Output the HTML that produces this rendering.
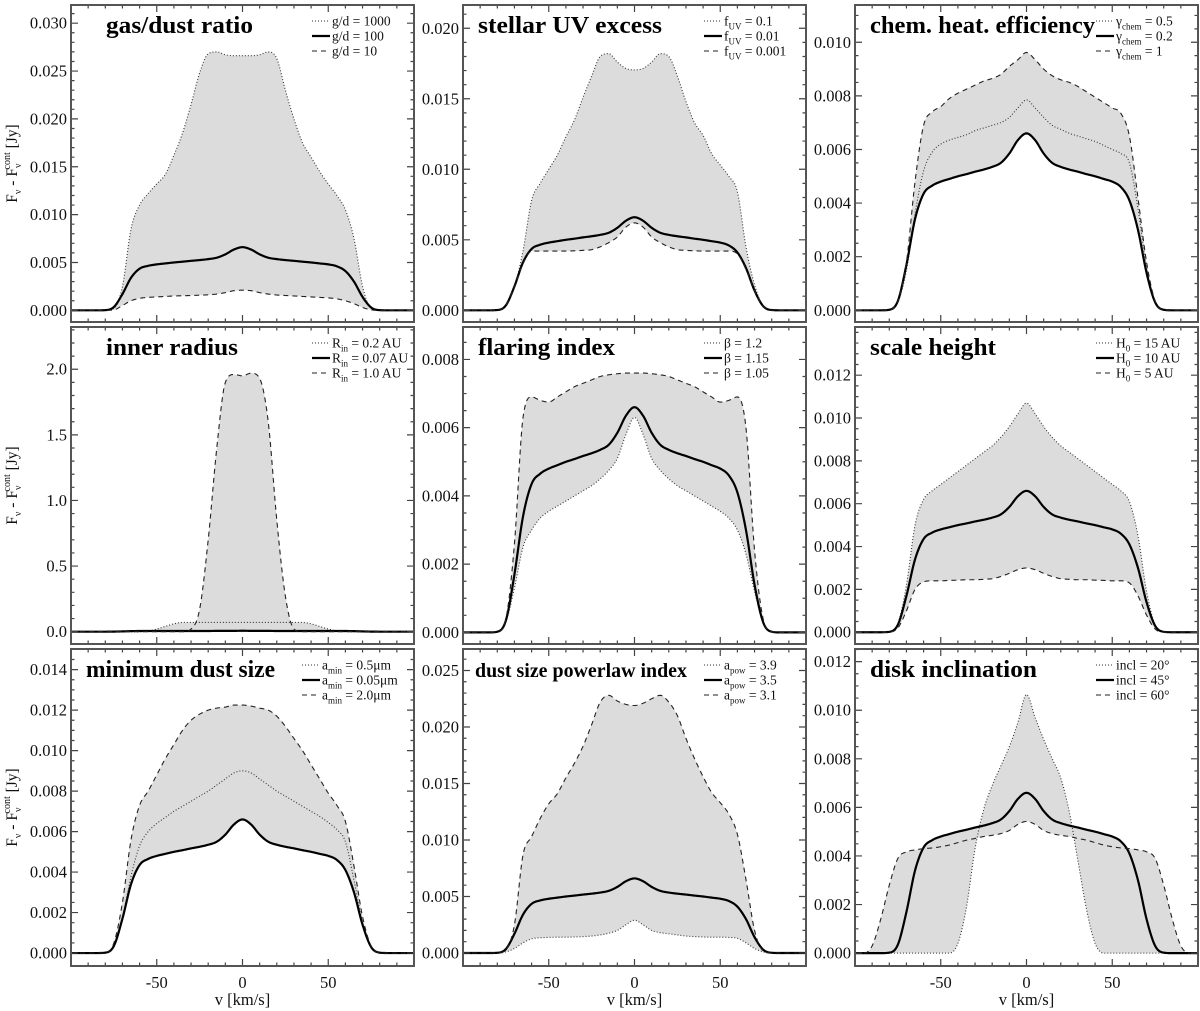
<!DOCTYPE html>
<html><head><meta charset="utf-8"><title>Line profile parameter study</title>
<style>
html,body{margin:0;padding:0;background:#fff;}
svg{display:block;font-family:"Liberation Serif",serif;}
</style></head>
<body>
<svg id="fig" xmlns="http://www.w3.org/2000/svg" width="1200" height="1011" viewBox="0 0 1200 1011">
<rect x="0" y="0" width="1200" height="1011" fill="#fff"/>
</svg>
<script>
// ---- data (flux values in 10^-3 Jy, except inner-radius panel in Jy) ----
const vel = [-100,-95,-90,-85,-80,-75,-70,-65,-60,-55,-50,-45,-40,-35,-30,-25,-20,-15,-10,-5,0,5,10,15,20,25,30,35,40,45,50,55,60,65,70,75,80,85,90,95,100];
const baseFlux = [0,0,0,0,0.02, 0.35,1.7,3.4,4.35,4.65, 4.8,4.9,5.0,5.08,5.17, 5.25,5.35,5.5,5.85,6.35, 6.6, 6.35,5.85,5.5,5.35,5.25, 5.17,5.08,5.0,4.9,4.8, 4.6,4.1,3.0,1.4,0.3, 0.02,0,0,0,0];
const gd1000 = [0,0,0,0,0, 0.2,2.5,8.5,11,12.2, 13.2,14.2,16.2,18.5,21.5, 24.8,26.8,27,26.7,26.6, 26.6, 26.6,26.7,27,26.3,23, 20,17.5,16,14.5,13.2, 12,10.5,7.5,2.5,0.2, 0,0,0,0,0];
const gd10 = [0,0,0,0,0, 0.05,0.5,1.0,1.25,1.35, 1.4,1.45,1.5,1.52,1.55, 1.58,1.62,1.7,1.85,2.05, 2.1, 2.05,1.85,1.7,1.6,1.55, 1.5,1.45,1.4,1.35,1.3, 1.2,1.0,0.7,0.3,0.05, 0,0,0,0,0];
const uv01 = [0,0,0,0,0, 0.3,1.7,4.2,7.8,9.0, 10.0,11.0,12.3,13.5,15.1, 16.6,18.0,18.2,17.6,17.15, 17.05, 17.15,17.6,18.2,18.0,16.6, 14.8,13.3,12.4,11.1,10.3, 9.5,8.4,4.5,1.8,0.3, 0,0,0,0,0];
const uv0001 = [0,0,0,0,0.02, 0.35,1.7,3.3,4.2,4.2, 4.2,4.2,4.2,4.22,4.25, 4.3,4.5,4.8,5.2,5.9, 6.2, 5.9,5.2,4.8,4.5,4.3, 4.25,4.22,4.2,4.2,4.2, 4.2,4.0,2.9,1.4,0.3, 0.02,0,0,0,0];
const chem05 = [0,0,0,0,0.02, 0.3,1.5,3.6,5.2,5.9, 6.2,6.35,6.45,6.55,6.7, 6.8,6.9,7.0,7.2,7.55, 7.85, 7.55,7.2,6.9,6.75,6.6, 6.5,6.4,6.3,6.15,6.0, 5.85,5.5,3.8,1.6,0.3, 0.02,0,0,0,0];
const chem1 = [0,0,0,0,0.02, 0.35,1.8,4.8,6.9,7.4, 7.6,7.9,8.1,8.25,8.4, 8.55,8.65,8.8,9.1,9.35, 9.62, 9.35,9.0,8.75,8.6,8.5, 8.35,8.15,7.95,7.75,7.55, 7.35,6.5,4.2,1.8,0.35, 0.02,0,0,0,0];
const rin02 = [0,0,0,0,0, 0,0,0,0,0.005, 0.02,0.04,0.06,0.07,0.07, 0.07,0.07,0.07,0.07,0.07, 0.07, 0.07,0.07,0.07,0.07,0.07, 0.07,0.07,0.06,0.04,0.02, 0.005,0,0,0,0, 0,0,0,0,0];
const rin007 = [0,0,0,0,0, 0.0005,0.002,0.004,0.005,0.005, 0.005,0.005,0.005,0.005,0.005, 0.005,0.005,0.006,0.006,0.006, 0.007, 0.006,0.006,0.006,0.005,0.005, 0.005,0.005,0.005,0.005,0.005, 0.005,0.005,0.004,0.002,0.0005, 0,0,0,0,0];
const rin10 = [0,0,0,0,0, 0,0,0,0,0, 0,0,0,0,0.02, 0.17,0.7,1.4,1.9,1.96, 1.95, 1.97,1.93,1.6,0.85,0.27, 0.02,0,0,0,0, 0,0,0,0,0, 0,0,0,0,0];
const flare12 = [0,0,0,0,0.02, 0.3,1.3,2.5,3.0,3.35, 3.55,3.7,3.85,4.0,4.15, 4.3,4.5,4.75,5.1,5.8, 6.3, 5.8,5.1,4.75,4.5,4.3, 4.15,4.0,3.85,3.7,3.55, 3.35,3.0,2.3,1.2,0.3, 0.02,0,0,0,0];
const flare105 = [0,0,0,0,0.02, 0.4,2.6,6.3,6.9,6.8, 6.75,6.9,7.05,7.2,7.3, 7.4,7.5,7.55,7.58,7.6, 7.6, 7.6,7.58,7.55,7.5,7.4, 7.3,7.2,7.05,6.9,6.75, 6.8,6.9,6.0,2.4,0.4, 0.02,0,0,0,0];
const scale15 = [0,0,0,0,0.02, 0.4,2.2,5.0,6.2,6.6, 6.9,7.2,7.5,7.8,8.1, 8.4,8.7,9.1,9.6,10.2, 10.7, 10.2,9.6,9.1,8.7,8.4, 8.1,7.8,7.5,7.2,6.9, 6.6,6.1,4.5,1.9,0.35, 0.02,0,0,0,0];
const scale5 = [0,0,0,0,0.01, 0.2,1.0,2.0,2.35,2.4, 2.4,2.42,2.43,2.45,2.45, 2.47,2.5,2.6,2.75,2.92, 3.0, 2.92,2.75,2.6,2.5,2.47, 2.45,2.45,2.43,2.42,2.4, 2.4,2.3,1.7,0.8,0.15, 0.01,0,0,0,0];
const amin05 = [0,0,0,0,0.02, 0.35,1.7,3.8,5.3,6.0, 6.4,6.7,7.0,7.25,7.5, 7.75,8.0,8.3,8.6,8.9, 9.0, 8.9,8.6,8.3,8.0,7.75, 7.5,7.25,7.0,6.75,6.45, 6.1,5.5,3.6,1.5,0.3, 0.02,0,0,0,0];
const amin20 = [0,0,0,0,0.03, 0.5,2.5,5.6,7.3,8.0, 8.8,9.6,10.3,11.0,11.5, 11.8,12.0,12.1,12.15,12.25, 12.25, 12.2,12.1,12.0,11.7,11.2, 10.6,10.0,9.3,8.6,7.9, 7.3,6.5,4.3,1.8,0.35, 0.02,0,0,0,0];
const apow31 = [0,0,0,0,0, 0.3,2.5,8.7,10.3,11.9, 13.2,14.1,15.5,16.8,18.3, 20.2,22.2,22.8,22.3,22.0, 21.9, 22.1,22.5,22.8,22.2,21.0, 19.0,17.2,15.6,14.2,13.3, 12.3,10.5,6.5,2.0,0.2, 0,0,0,0,0];
const apow39 = [0,0,0,0,0, 0.1,0.4,0.9,1.25,1.35, 1.38,1.4,1.4,1.42,1.45, 1.5,1.6,1.75,2.0,2.5, 2.9, 2.5,2.0,1.8,1.7,1.6, 1.5,1.45,1.42,1.4,1.4, 1.38,1.3,0.9,0.4,0.1, 0,0,0,0,0];
const incl20 = [0,0,0,0,0, 0,0,0,0,0, 0,0,0.4,1.9,4.3, 5.9,6.9,7.7,8.5,9.5, 10.65, 9.7,8.8,8.0,7.2,5.8, 3.8,1.8,0.4,0,0, 0,0,0,0,0, 0,0,0,0,0];
const incl60 = [0,0,0.3,1.4,2.8, 3.9,4.17,4.25,4.3,4.33, 4.38,4.45,4.55,4.65,4.72, 4.8,4.85,4.92,5.05,5.3, 5.42, 5.3,5.05,4.92,4.85,4.8, 4.72,4.65,4.55,4.45,4.38, 4.33,4.3,4.25,4.17,3.9, 2.8,1.4,0.3,0,0];
const xMajorTicks = [-50,0,50];
const xTickLabels = ["-50","0","50"];
const xMinorTicks = [-90,-80,-70,-60,-40,-30,-20,-10,10,20,30,40,60,70,80,90];

const NS = "http://www.w3.org/2000/svg";
const svg = document.getElementById("fig");
function mk(tag, attrs, parent){ const e=document.createElementNS(NS,tag); for(const k in attrs) e.setAttribute(k,attrs[k]); (parent||svg).appendChild(e); return e; }

function makeInterp(xs, ys){
  const n=xs.length, d=[], m=new Array(n);
  for(let i=0;i<n-1;i++) d[i]=(ys[i+1]-ys[i])/(xs[i+1]-xs[i]);
  m[0]=d[0]; m[n-1]=d[n-2];
  for(let i=1;i<n-1;i++) m[i] = (d[i-1]*d[i]<=0)?0:(d[i-1]+d[i])/2;
  for(let i=0;i<n-1;i++){
    if(d[i]===0){ m[i]=0; m[i+1]=0; continue; }
    const a=m[i]/d[i], b=m[i+1]/d[i], s=a*a+b*b;
    if(s>9){ const t=3/Math.sqrt(s); m[i]=t*a*d[i]; m[i+1]=t*b*d[i]; }
  }
  return function(x){
    let i=0; while(i<n-2 && x>xs[i+1]) i++;
    const h=xs[i+1]-xs[i], t=(x-xs[i])/h, t2=t*t, t3=t2*t;
    return (2*t3-3*t2+1)*ys[i]+(t3-2*t2+t)*h*m[i]+(-2*t3+3*t2)*ys[i+1]+(t3-t2)*h*m[i+1];
  };
}

const cols=[[71,414],[463,806],[855,1198]];
const rows=[[5,322],[327,644],[649,966]];
const STY={dot:{w:1.1,dash:"1,2",c:"#333"}, solid:{w:2.2,dash:"",c:"#000"}, dash:{w:1.1,dash:"5,4",c:"#222"}};

const panels=[
 {id:"gas-dust-ratio",r:0,c:0,title:"gas/dust ratio",tw:147,fs:24,ymin:-1.22,ymax:31.9,yt:[0,5,10,15,20,25,30],ym:1,dec:3,scale:1000,
  series:[{d:gd1000,s:"dot",lab:["g/d = 1000"]},{d:baseFlux,s:"solid",lab:["g/d = 100"]},{d:gd10,s:"dash",lab:["g/d = 10"]}]},
 {id:"stellar-uv-excess",r:0,c:1,title:"stellar UV excess",tw:184,fs:24,ymin:-0.83,ymax:21.65,yt:[0,5,10,15,20],ym:1,dec:3,scale:1000,
  series:[{d:uv01,s:"dot",lab:["f","UV"," = 0.1"]},{d:baseFlux,s:"solid",lab:["f","UV"," = 0.01"]},{d:uv0001,s:"dash",lab:["f","UV"," = 0.001"]}]},
 {id:"chem-heat-efficiency",r:0,c:2,title:"chem. heat. efficiency",tw:225,fs:24,ymin:-0.437,ymax:11.39,yt:[0,2,4,6,8,10],ym:0.5,dec:3,scale:1000,
  series:[{d:chem05,s:"dot",lab:["γ","chem"," = 0.5"]},{d:baseFlux,s:"solid",lab:["γ","chem"," = 0.2"]},{d:chem1,s:"dash",lab:["γ","chem"," = 1"]}]},
 {id:"inner-radius",r:1,c:0,title:"inner radius",tw:132,fs:24,ymin:-0.094,ymax:2.322,yt:[0,0.5,1,1.5,2],ym:0.1,dec:1,scale:1,
  series:[{d:rin02,s:"dot",lab:["R","in"," = 0.2 AU"]},{d:rin007,s:"solid",lab:["R","in"," = 0.07 AU"]},{d:rin10,s:"dash",lab:["R","in"," = 1.0 AU"]}]},
 {id:"flaring-index",r:1,c:1,title:"flaring index",tw:137,fs:24,ymin:-0.34,ymax:8.95,yt:[0,2,4,6,8],ym:0.5,dec:3,scale:1000,
  series:[{d:flare12,s:"dot",lab:["β = 1.2"]},{d:baseFlux,s:"solid",lab:["β = 1.15"]},{d:flare105,s:"dash",lab:["β = 1.05"]}]},
 {id:"scale-height",r:1,c:2,title:"scale height",tw:126,fs:24,ymin:-0.55,ymax:14.25,yt:[0,2,4,6,8,10,12],ym:0.5,dec:3,scale:1000,
  series:[{d:scale15,s:"dot",lab:["H","0"," = 15 AU"]},{d:baseFlux,s:"solid",lab:["H","0"," = 10 AU"]},{d:scale5,s:"dash",lab:["H","0"," = 5 AU"]}]},
 {id:"minimum-dust-size",r:2,c:0,title:"minimum dust size",tw:189,fs:24,ymin:-0.64,ymax:15.02,yt:[0,2,4,6,8,10,12,14],ym:0.5,dec:3,scale:1000,lx:-10,
  series:[{d:amin05,s:"dot",lab:["a","min"," = 0.5μm"]},{d:baseFlux,s:"solid",lab:["a","min"," = 0.05μm"]},{d:amin20,s:"dash",lab:["a","min"," = 2.0μm"]}]},
 {id:"dust-size-powerlaw-index",r:2,c:1,title:"dust size powerlaw index",tw:212,fs:20,ymin:-1.15,ymax:26.9,yt:[0,5,10,15,20,25],ym:1,dec:3,scale:1000,
  series:[{d:apow39,s:"dot",lab:["a","pow"," = 3.9"]},{d:baseFlux,s:"solid",lab:["a","pow"," = 3.5"]},{d:apow31,s:"dash",lab:["a","pow"," = 3.1"]}]},
 {id:"disk-inclination",r:2,c:2,title:"disk inclination",tw:167,fs:24,ymin:-0.53,ymax:12.52,yt:[0,2,4,6,8,10,12],ym:0.5,dec:3,scale:1000,
  series:[{d:incl20,s:"dot",lab:["incl = 20°"]},{d:baseFlux,s:"solid",lab:["incl = 45°"]},{d:incl60,s:"dash",lab:["incl = 60°"]}]}
];
const titleX=[106,478,870];
const titleXOverride={"minimum-dust-size":86,"dust-size-powerlaw-index":475};

panels.forEach((p,pi)=>{
  const L=cols[p.c][0], R=cols[p.c][1], T=rows[p.r][0], B=rows[p.r][1];
  const sx=v=>L+(v+100)/200*(R-L);
  const sy=y=>B-(y-p.ymin)/(p.ymax-p.ymin)*(B-T);
  const g=mk("g",{});
  
  
  const cp=mk("clipPath",{id:"clip"+pi},g);
  mk("rect",{x:L,y:T,width:R-L,height:B-T},cp);
  const fns=p.series.map(s=>makeInterp(vel,s.d));
  // fill
  let top=[],bot=[];
  for(let v=-100;v<=100.001;v+=0.5){
    const vals=fns.map(f=>f(v));
    top.push(sx(v).toFixed(2)+","+sy(Math.max(...vals)).toFixed(2));
    bot.unshift(sx(v).toFixed(2)+","+sy(Math.min(...vals)).toFixed(2));
  }
  const fill=mk("polygon",{points:top.concat(bot).join(" "),fill:"#dcdcdc",stroke:"none","clip-path":"url(#clip"+pi+")"},g);
  
  
  // lines
  p.series.forEach((s,si)=>{
    const st=STY[s.s]; let pts=[];
    for(let v=-100;v<=100.001;v+=0.5) pts.push(sx(v).toFixed(2)+","+sy(fns[si](v)).toFixed(2));
    const ln=mk("polyline",{points:pts.join(" "),fill:"none",stroke:st.c,"stroke-width":st.w,"stroke-dasharray":st.dash,"stroke-linejoin":"round","clip-path":"url(#clip"+pi+")"},g);
    
    
  });
  // ticks
  let tk="";
  xMajorTicks.forEach(v=>{const x=sx(v); tk+=`M${x},${B}v-7M${x},${T}v7`;});
  xMinorTicks.forEach(v=>{const x=sx(v); tk+=`M${x},${B}v-3.5M${x},${T}v3.5`;});
  for(let y=0;y<=p.ymax+1e-9;y+=p.ym){
    const isMaj=p.yt.some(t=>Math.abs(t-y)<1e-6); const len=isMaj?7:3.5; const yy=sy(y);
    tk+=`M${L},${yy}h${len}M${R},${yy}h${-len}`;
  }
  const ticks=mk("path",{d:tk,stroke:"#444","stroke-width":1.2,fill:"none"},g);
  
  
  // frame
  const fr=mk("rect",{x:L,y:T,width:R-L,height:B-T,fill:"none",stroke:"#555","stroke-width":2},g);
  
  
  // y tick labels
  p.yt.forEach(t=>{
    const tl=mk("text",{x:L-4,y:sy(t)+5.5,"text-anchor":"end","font-size":16.5,fill:"#111"},g);
    tl.textContent=(t/p.scale).toFixed(p.dec);
    
    
  });
  // x tick labels on bottom row
  if(p.r===2){
    xMajorTicks.forEach((v,i)=>{
      const xl=mk("text",{x:sx(v),y:988,"text-anchor":"middle","font-size":16.5,fill:"#111"},g);
      xl.textContent=xTickLabels[i];
      
      
    });
    const xt=mk("text",{x:(L+R)/2,y:1005,"text-anchor":"middle","font-size":16.5,fill:"#111"},g);
    xt.textContent="v [km/s]";
    
    
  }
  // title
  const tx=titleXOverride[p.id]||titleX[p.c];
  const ty=p.r===0?33:(p.r===1?355:677);
  const tt=mk("text",{x:tx,y:ty,"font-size":p.fs,"font-weight":"bold",fill:"#000",textLength:p.tw,lengthAdjust:"spacingAndGlyphs"},g);
  tt.textContent=p.title;
  
  
  // legend
  const lx=L+261+(p.lx||0);
  p.series.forEach((s,si)=>{
    const cy=T+16+si*15; const st=STY[s.s];
    const seg=mk("line",{x1:lx-20,y1:cy,x2:lx-2,y2:cy,stroke:st.c,"stroke-width":st.w,"stroke-dasharray":st.dash},g);
    
    
    const lt=mk("text",{x:lx,y:cy+4.5,"font-size":13.5,fill:"#111"},g);
    
    
    if(s.lab.length===1){ lt.textContent=s.lab[0]; }
    else{
      const a=mk("tspan",{},lt); a.textContent=s.lab[0];
      const b=mk("tspan",{"font-size":9,dy:4},lt); b.textContent=s.lab[1];
      const c=mk("tspan",{dy:-4},lt); c.textContent=s.lab[2];
    }
  });
  // y-axis title for first column
  if(p.c===0){
    const cy=(T+B)/2;
    const yt=mk("text",{x:0,y:0,transform:`translate(17,${cy}) rotate(-90)`,"text-anchor":"middle","font-size":15.5,fill:"#111"},g);
    
    
    const a=mk("tspan",{},yt); a.textContent="F";
    const b=mk("tspan",{"font-size":10,dy:4},yt); b.textContent="ν";
    const c=mk("tspan",{dy:-4},yt); c.textContent=" - F";
    const d=mk("tspan",{"font-size":10,dy:4},yt); d.textContent="ν";
    const e=mk("tspan",{"font-size":10,dy:-11,dx:-6},yt); e.textContent="cont";
    const f=mk("tspan",{dy:7},yt); f.textContent=" [Jy]";
  }
});
</script>
</body></html>
